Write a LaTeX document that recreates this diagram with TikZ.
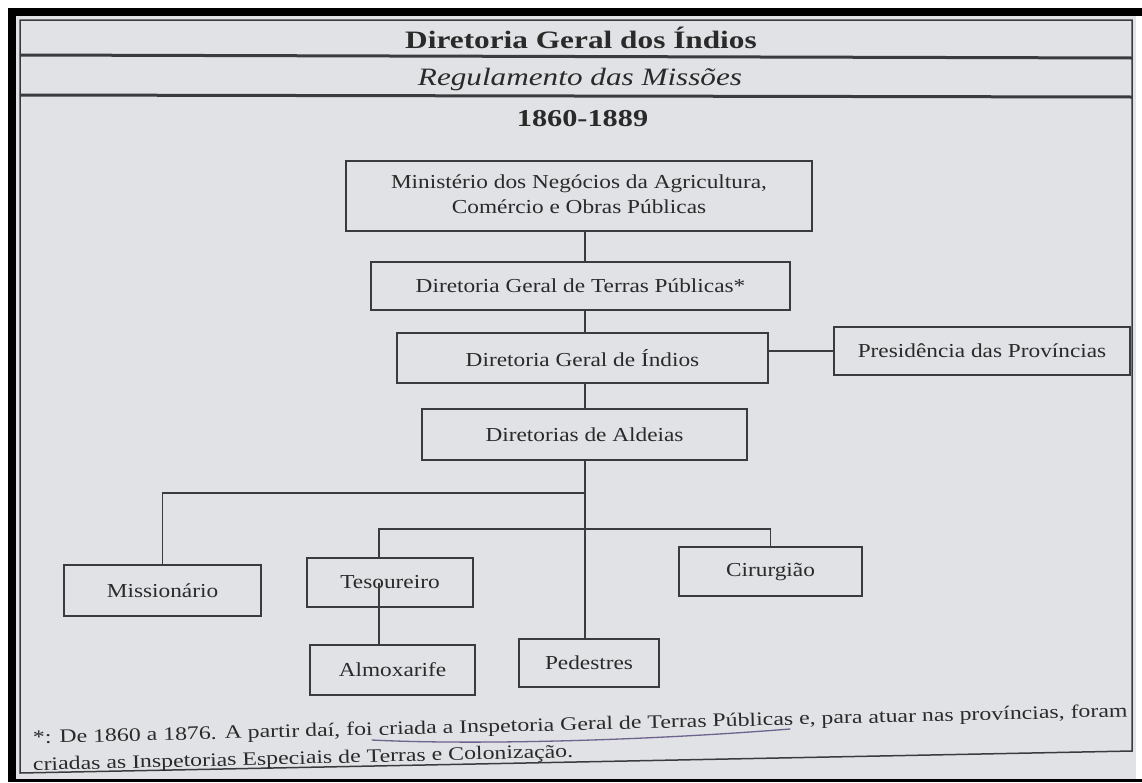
\documentclass[tikz,border=0pt]{standalone}
\usepackage{fontspec}
\setmainfont{Liberation Serif}
\usepackage{graphicx}
\usetikzlibrary{calc}

\definecolor{paper}{HTML}{E0E2E5}
\definecolor{ink}{HTML}{2A2A2A}
\definecolor{rule}{HTML}{3A3B3D}
\definecolor{pencil}{HTML}{6E6290}

% printed type is a little flattened vertically
\newcommand\sqz[1]{\scalebox{1}[0.85]{#1}}
\newcommand\sqn[1]{\scalebox{1}[0.80]{#1}}
\newcommand\sqh[1]{\scalebox{1}[0.80]{#1}}

\begin{document}
\begin{tikzpicture}[x=1pt,y=-1pt,
  box/.style={draw=rule, line width=1.8pt, inner sep=0pt, text=ink,
    font=\fontsize{23.3}{30}\selectfont},
  link/.style={draw=rule, line width=1.8pt},
  head/.style={anchor=base, inner sep=0pt, text=ink},
  note/.style={anchor=base west, inner sep=0pt, text=ink, rotate=1.4,
    font=\fontsize{23.8}{28}\selectfont},
]
\useasboundingbox (0,0) rectangle (1142,782);
\fill[white] (0,0) rectangle (1142,782);
\fill[paper] (16,16) rectangle (1136,782);

% outer frame and header rules
\draw[rule, line width=1.5pt] (20,20) -- (1132,20) -- (1132,751) -- (20,773) -- cycle;
\draw[rule, line width=3pt] (20,55) -- (1132,58);
\draw[rule, line width=3pt] (20,95) -- (1132,97);

% dark edges of the sheet
\fill[black] (8,8) rectangle (1142,16);
\fill[black] (8,8) rectangle (16,782);
\fill[black] (8,779) rectangle (1142,782);

% header
\node[head, font=\fontsize{31.3}{32}\selectfont\bfseries] (title) at (581,48) {\sqh{Diretoria Geral dos Índios}};
\node[head, font=\fontsize{31.2}{32}\selectfont\itshape] (sub) at (580,85) {\sqh{Regulamento das Missões}};
\node[head, font=\fontsize{30.3}{32}\selectfont\bfseries] (years) at (582.5,126) {\sqh{1860-1889}};

% organisation boxes
\node[box, minimum width=466, minimum height=70] (min) at (579,196)
  {\sqz{\begin{tabular}{@{}c@{}}Ministério dos Negócios da Agricultura,\\Comércio e Obras Públicas\end{tabular}}};
\node[box, minimum width=419, minimum height=48] (ter) at (580.5,286) {\sqz{Diretoria Geral de Terras Públicas*}};
\node[box, minimum width=371, minimum height=50] (ind) at (582.5,358) {\sqz{Diretoria Geral de Índios}};
\node[box, minimum width=296, minimum height=48] (pre) at (982,351) {\sqz{Presidência das Províncias}};
\node[box, minimum width=325, minimum height=51] (ald) at (584.5,434.5) {\sqz{Diretorias de Aldeias}};
\node[box, minimum width=197, minimum height=51] (mis) at (162.5,590.5) {\sqz{Missionário}};
\node[box, minimum width=166, minimum height=49] (tes) at (390,582.5) {\sqz{Tesoureiro}};
\node[box, minimum width=183, minimum height=49] (cir) at (770.5,571.5) {\sqz{Cirurgião}};
\node[box, minimum width=165, minimum height=50] (alm) at (392.5,670) {\sqz{Almoxarife}};
\node[box, minimum width=140, minimum height=48] (ped) at (589,663) {\sqz{Pedestres}};

% guide positions for the connector runs
\coordinate (trunk) at (585,0);
\coordinate (tcol) at (379,0);
\coordinate (j1) at (0,493);
\coordinate (j2) at (0,529);

% connectors
\draw[link] (min.south -| trunk) -- (ter.north -| trunk);
\draw[link] (ter.south -| trunk) -- (ind.north -| trunk);
\draw[link] (ind.south -| trunk) -- (ald.north -| trunk);
\draw[link] (pre.west) -- (pre.west -| ind.east);
\draw[link] (ald.south -| trunk) -- (ped.north -| trunk);
\draw[link] (trunk |- j1) -- (mis.north |- j1) -- (mis.north);
\draw[link] (tes.north -| tcol) -- (tcol |- j2) -- (cir.north |- j2) -- (cir.north);
\draw[link] (tes.center -| tcol) -- (alm.north -| tcol);

% footnote
\node[note] (fn1) at (33,743.5) {\sqn{*: De 1860 a 1876. A partir daí, foi criada a Inspetoria Geral de Terras Públicas e, para atuar nas províncias, foram}};
\node[note] (fn2) at (33,770.5) {\sqn{criadas as Inspetorias Especiais de Terras e Colonização.}};

% pencil underline beneath part of the footnote
\draw[pencil, line width=1.3pt, line cap=round]
  (372,740) .. controls (470,745) and (640,741) .. (790,729);
\end{tikzpicture}
\end{document}
